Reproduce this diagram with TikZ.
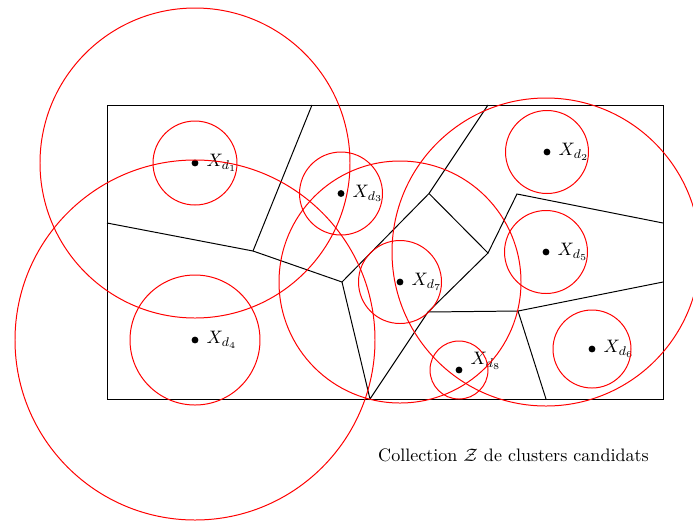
\documentclass[tikz,border=0pt]{standalone}
\usepackage{amsmath}
\begin{document}
\begin{tikzpicture}[x=0.554pt,y=-0.554pt,
  cell/.style={black,line width=0.55pt},
  ball/.style={red,line width=0.55pt},
  dot/.style={circle,fill=black,inner sep=0pt,minimum size=3.8pt},
  lab/.style={anchor=west,inner sep=0pt,xshift=6.3pt}]
\clip (0,0) rectangle (693,521);
% frame
\coordinate (tl) at (107,105);
\coordinate (br) at (663,399);
\draw[cell] (tl) rectangle (br);
% Voronoi vertices
\coordinate (A) at (107,223);
\coordinate (B) at (253,251);
\coordinate (C) at (312,105);
\coordinate (D) at (342,282);
\coordinate (E) at (429,193.5);
\coordinate (F) at (488,105);
\coordinate (G) at (488,253);
\coordinate (H) at (517,194);
\coordinate (I) at (663,223);
\coordinate (J) at (428,312);
\coordinate (K) at (518,311);
\coordinate (L) at (663,282);
\coordinate (M) at (546,399);
\coordinate (N) at (370,399);
\draw[cell] (A) -- (B) -- (C);
\draw[cell] (B) -- (D) -- (E) -- (F);
\draw[cell] (E) -- (G) -- (H) -- (I);
\draw[cell] (G) -- (J) -- (K) -- (L);
\draw[cell] (K) -- (M);
\draw[cell] (J) -- (N) -- (D);
% points
\node[dot] (d1) at (195,163) {};
\node[dot] (d2) at (547,152) {};
\node[dot] (d3) at (341,193.5) {};
\node[dot] (d4) at (195,340) {};
\node[dot] (d5) at (546,252) {};
\node[dot] (d6) at (592,349) {};
\node[dot] (d7) at (400,282) {};
\node[dot] (d8) at (459,370) {};
\node[lab] (l1) at (d1) {$X_{d_1}$};
\node[lab] (l2) at (d2) {$X_{d_2}$};
\node[lab] (l3) at (d3) {$X_{d_3}$};
\node[lab] (l4) at (d4) {$X_{d_4}$};
\node[lab] (l5) at (d5) {$X_{d_5}$};
\node[lab] (l6) at (d6) {$X_{d_6}$};
\node[lab] (l7) at (d7) {$X_{d_7}$};
\node[lab] (l8) at ([yshift=3pt]d8.north) {$X_{d_8}$};
% small balls
\draw[ball] (d1) circle[radius=42];
\draw[ball] (d2) circle[radius=41.5];
\draw[ball] (d3) circle[radius=41.5];
\draw[ball] (d4) circle[radius=65];
\draw[ball] (d5) circle[radius=41.5];
\draw[ball] (d6) circle[radius=39];
\draw[ball] (d7) circle[radius=41.5];
\draw[ball] (d8) circle[radius=29];
% big balls
\draw[ball] (d1) circle[radius=155];
\draw[ball] (d4) circle[radius=180];
\draw[ball] (d7) circle[radius=121];
\draw[ball] (d5) circle[radius=154];
% caption
\node (cap) at (513.5,455) {Collection $\mathcal{Z}$ de clusters candidats};
\end{tikzpicture}
\end{document}
